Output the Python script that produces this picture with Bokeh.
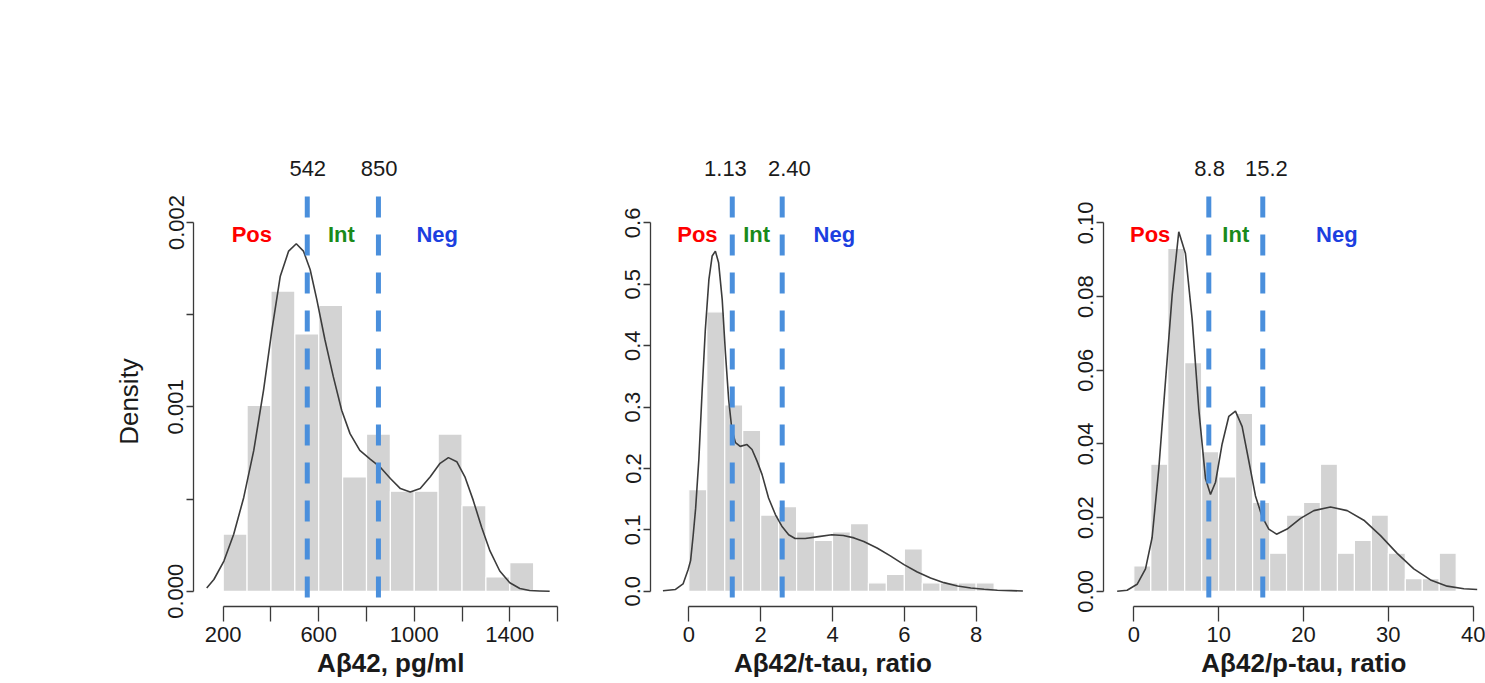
from bokeh.plotting import figure
from bokeh.layouts import row
from bokeh.models import FixedTicker, Title
from bokeh.core.properties import value
from bokeh.embed import file_html
from bokeh.resources import INLINE

# ---------------- data ----------------
zone_labels = ["Pos", "Int", "Neg"]
zone_colors = ["#ff0000", "#1a8a1a", "#1c3fe0"]

# Panel 1: Abeta42, pg/ml
ab_edges = [200, 300, 400, 500, 600, 700, 800, 900, 1000, 1100, 1200, 1300, 1400, 1500]
ab_counts = [4, 13, 21, 18, 20, 8, 11, 7, 7, 11, 6, 1, 2]
ab_kde_x = [131, 161, 203, 244, 286, 328, 369, 404, 439, 474, 506, 536, 564, 592, 626,
            661, 696, 731, 772, 814, 856, 900, 942, 983, 1025, 1067, 1108, 1143, 1178,
            1212, 1247, 1282, 1317, 1358, 1400, 1442, 1483, 1525, 1567]
ab_kde_y = [0.000018, 0.000064, 0.000164, 0.000309, 0.000509, 0.000764, 0.001091, 0.001418,
            0.001709, 0.001845, 0.001885, 0.001845, 0.001745, 0.001582, 0.001364, 0.001164,
            0.000982, 0.000855, 0.000764, 0.000718, 0.000675, 0.000612, 0.000557, 0.000539,
            0.000557, 0.000621, 0.000694, 0.000725, 0.000703, 0.000621, 0.000493, 0.000347,
            0.000219, 0.000110, 0.000046, 0.000015, 0.000004, 0.000002, 0.0]
ab_cut_lines = [552, 850]
ab_cut_labels = ["542", "850"]
ab_cut_label_x = [554, 853]
ab_zone_x = [320, 695, 1096]
ab_xticks = [200, 400, 600, 800, 1000, 1200, 1400, 1600]
ab_xtick_labels = ["200", "", "600", "", "1000", "", "1400", ""]
ab_yticks = [0.0, 0.0005, 0.001, 0.0015, 0.002]
ab_ytick_labels = ["0.000", "", "0.001", "", "0.002"]
ab_title = "A\u03b242, pg/ml"
ab_ylabel = "Density"

# Panel 2: Abeta42/t-tau ratio
tt_edges = [0.0, 0.5, 1.0, 1.5, 2.0, 2.5, 3.0, 3.5, 4.0, 4.5, 5.0, 5.5, 6.0, 6.5, 7.0, 7.5, 8.0, 8.5]
tt_counts = [12, 33, 22, 19, 9, 10, 7, 6, 7, 8, 1, 2, 5, 1, 1, 1, 1]
tt_kde_x = [-0.72, -0.37, -0.16, -0.02, 0.05, 0.12, 0.19, 0.28, 0.37, 0.46, 0.56, 0.65, 0.74,
            0.83, 0.93, 1.02, 1.11, 1.20, 1.30, 1.43, 1.62, 1.76, 1.90, 2.04, 2.22, 2.41,
            2.59, 2.78, 2.96, 3.24, 3.61, 3.98, 4.30, 4.60, 4.87, 5.24, 5.61, 5.99, 6.36,
            6.73, 7.10, 7.48, 7.85, 8.22, 8.59, 8.97, 9.30]
tt_kde_y = [0.001, 0.003, 0.012, 0.035, 0.050, 0.090, 0.135, 0.215, 0.325, 0.426, 0.508, 0.546,
            0.554, 0.535, 0.475, 0.388, 0.312, 0.263, 0.242, 0.236, 0.239, 0.231, 0.212, 0.190,
            0.152, 0.125, 0.106, 0.092, 0.086, 0.086, 0.089, 0.092, 0.091, 0.087, 0.081, 0.0706,
            0.0576, 0.0434, 0.0315, 0.0217, 0.0141, 0.0087, 0.0054, 0.0033, 0.0016, 0.0011, 0.0005]
tt_cut_lines = [1.21, 2.60]
tt_cut_labels = ["1.13", "2.40"]
tt_cut_label_x = [1.02, 2.80]
tt_zone_x = [0.24, 1.89, 4.05]
tt_xticks = [0, 2, 4, 6, 8]
tt_xtick_labels = ["0", "2", "4", "6", "8"]
tt_yticks = [0.0, 0.1, 0.2, 0.3, 0.4, 0.5, 0.6]
tt_ytick_labels = ["0.0", "0.1", "0.2", "0.3", "0.4", "0.5", "0.6"]
tt_title = "A\u03b242/t-tau, ratio"

# Panel 3: Abeta42/p-tau ratio
pt_edges = [0, 2, 4, 6, 8, 10, 12, 14, 16, 18, 20, 22, 24, 26, 28, 30, 32, 34, 36, 38]
pt_counts = [2, 10, 27, 18, 11, 9, 14, 7, 3, 6, 7, 10, 3, 4, 6, 3, 1, 1, 3]
pt_kde_x = [-1.96, -0.79, 0.39, 1.38, 2.16, 2.95, 3.73, 4.52, 5.30, 6.09, 6.88, 7.66, 8.45,
            9.04, 9.63, 10.41, 11.20, 11.98, 12.77, 13.56, 14.34, 15.13, 15.91, 16.82, 18.07,
            19.65, 21.22, 23.18, 25.15, 27.11, 29.08, 31.04, 33.00, 34.97, 36.93, 38.90, 40.47]
pt_kde_y = [0.0, 0.0003, 0.0019, 0.0061, 0.0146, 0.0334, 0.0569, 0.0804, 0.0976, 0.0917, 0.0738,
            0.0494, 0.0306, 0.0263, 0.0296, 0.0400, 0.0475, 0.0489, 0.0447, 0.0353, 0.0259,
            0.0202, 0.0169, 0.0155, 0.0169, 0.0198, 0.0219, 0.0229, 0.0219, 0.0193, 0.0151,
            0.0103, 0.0061, 0.0031, 0.0014, 0.0007, 0.0005]
pt_cut_lines = [8.84, 15.2]
pt_cut_labels = ["8.8", "15.2"]
pt_cut_label_x = [8.94, 15.62]
pt_zone_x = [1.93, 12.02, 23.93]
pt_xticks = [0, 10, 20, 30, 40]
pt_xtick_labels = ["0", "10", "20", "30", "40"]
pt_yticks = [0.0, 0.02, 0.04, 0.06, 0.08, 0.10]
pt_ytick_labels = ["0.00", "0.02", "0.04", "0.06", "0.08", "0.10"]
pt_title = "A\u03b242/p-tau, ratio"

# ---------------- layout constants (screen pixels) ----------------
FONT = "Liberation Sans"
FIG_H = 683
FRAME_TOP = 140
FRAME_BOTTOM = 606
Y0_PX = 590.8
DASH_TOP = 196
DASH_BOTTOM = 598
YLABEL_CENTER_PX = 401
TITLE_PX = 26
AXIS_COL = "#3a3a3a"
TEXT_COL = "#1a1a1a"

# approximate advance widths (em) of Liberation Sans, used only to centre titles
_W_BOLD = {"A": .722, "\u03b2": .58, "4": .556, "2": .556, ",": .278, " ": .278, "p": .611,
           "g": .611, "/": .278, "m": .889, "l": .278, "t": .333, "-": .333, "a": .556,
           "u": .611, "r": .389, "i": .278, "o": .611}
_W_REG = {"D": .722, "e": .556, "n": .556, "s": .5, "i": .222, "t": .278, "y": .5}


def text_width(s, table, size):
    return sum(table.get(ch, .556) for ch in s) * size


def make_panel(edges, counts, kde_x, kde_y, cut_lines, cut_labels, cut_label_x, zone_x,
               xticks, xtick_labels, yticks, ytick_labels, title,
               fig_l, fig_r, frame_l, frame_r, x_ref, x_ref_px, x_scale, y_scale,
               ylabel=None):
    def xd(px):
        return x_ref + (px - x_ref_px) / x_scale

    def xp(x):
        return x_ref_px + (x - x_ref) * x_scale

    def yd(py):
        return (Y0_PX - py) / y_scale

    p = figure(width=fig_r - fig_l, height=FIG_H,
               x_range=(xd(frame_l), xd(frame_r)),
               y_range=(yd(FRAME_BOTTOM), yd(FRAME_TOP)),
               output_backend="svg", toolbar_location=None,
               min_border_left=frame_l - fig_l, min_border_right=fig_r - frame_r,
               min_border_top=FRAME_TOP, min_border_bottom=FIG_H - FRAME_BOTTOM)
    p.outline_line_color = None
    p.xgrid.visible = False
    p.ygrid.visible = False
    p.background_fill_color = "white"
    p.border_fill_color = "white"

    n = sum(counts)
    w = edges[1] - edges[0]
    dens = [c / (n * w) for c in counts]
    p.quad(left=edges[:-1], right=edges[1:], bottom=0, top=dens,
           fill_color="#d3d3d3", line_color="white", line_width=1.2)
    p.line(kde_x, kde_y, line_color="#3c3c3c", line_width=1.6)
    p.segment(x0=cut_lines, y0=[yd(DASH_TOP)] * len(cut_lines),
              x1=cut_lines, y1=[yd(DASH_BOTTOM)] * len(cut_lines),
              line_color="#4a8fdc", line_width=5, line_dash="21 17")
    p.text(x=cut_label_x, y=[yd(168.3)] * len(cut_label_x), text=cut_labels,
           text_font=value(FONT), text_font_size="22px", text_color=TEXT_COL,
           text_align="center", text_baseline="alphabetic")
    p.text(x=zone_x, y=[yd(234)] * len(zone_x), text=zone_labels, text_color=zone_colors,
           text_font=value(FONT), text_font_size="22px", text_font_style="bold",
           text_align="center", text_baseline="alphabetic")

    xa = p.xaxis[0]
    xa.ticker = FixedTicker(ticks=xticks)
    xa.major_label_overrides = dict(zip(xticks, xtick_labels))
    xa.bounds = (xticks[0], xticks[-1])
    xa.major_tick_in = 0
    xa.major_tick_out = 15
    xa.minor_tick_line_color = None
    xa.axis_line_color = AXIS_COL
    xa.axis_line_width = 1.3
    xa.major_tick_line_color = AXIS_COL
    xa.major_tick_line_width = 1.3
    xa.major_label_text_font = FONT
    xa.major_label_text_font_size = "22px"
    xa.major_label_text_color = TEXT_COL
    xa.major_label_standoff = 5

    ya = p.yaxis[0]
    ya.ticker = FixedTicker(ticks=yticks)
    ya.major_label_overrides = dict(zip(yticks, ytick_labels))
    ya.bounds = (yticks[0], yticks[-1])
    ya.major_tick_in = 0
    ya.major_tick_out = 7
    ya.minor_tick_line_color = None
    ya.axis_line_color = AXIS_COL
    ya.axis_line_width = 1.3
    ya.major_tick_line_color = AXIS_COL
    ya.major_tick_line_width = 1.3
    ya.major_label_orientation = "vertical"
    ya.major_label_text_font = FONT
    ya.major_label_text_font_size = "22px"
    ya.major_label_text_color = TEXT_COL
    ya.major_label_standoff = 3

    # x title centred on the middle of the axis span
    title_cx = xp((xticks[0] + xticks[-1]) / 2)
    tw = text_width(title, _W_BOLD, TITLE_PX)
    p.add_layout(Title(text=title, align="left", offset=title_cx - tw / 2 - frame_l,
                       text_font=FONT, text_font_size="%dpx" % TITLE_PX,
                       text_font_style="bold", text_color=TEXT_COL, standoff=2), "below")

    if ylabel:
        lw = text_width(ylabel, _W_REG, TITLE_PX)
        p.add_layout(Title(text=ylabel, align="left",
                           offset=FRAME_BOTTOM - (YLABEL_CENTER_PX + lw / 2),
                           text_font=FONT, text_font_size="%dpx" % TITLE_PX,
                           text_font_style="normal", text_color=TEXT_COL, standoff=43),
                     "left")
    return p


p1 = make_panel(ab_edges, ab_counts, ab_kde_x, ab_kde_y, ab_cut_lines, ab_cut_labels,
                ab_cut_label_x, ab_zone_x, ab_xticks, ab_xtick_labels, ab_yticks,
                ab_ytick_labels, ab_title,
                fig_l=0, fig_r=590, frame_l=193, frame_r=570,
                x_ref=200, x_ref_px=222.7, x_scale=0.23883, y_scale=184400,
                ylabel=ab_ylabel)
p2 = make_panel(tt_edges, tt_counts, tt_kde_x, tt_kde_y, tt_cut_lines, tt_cut_labels,
                tt_cut_label_x, tt_zone_x, tt_xticks, tt_xtick_labels, tt_yticks,
                tt_ytick_labels, tt_title,
                fig_l=590, fig_r=1045, frame_l=650, frame_r=1030,
                x_ref=0, x_ref_px=688.3, x_scale=35.925, y_scale=614.0)
p3 = make_panel(pt_edges, pt_counts, pt_kde_x, pt_kde_y, pt_cut_lines, pt_cut_labels,
                pt_cut_label_x, pt_zone_x, pt_xticks, pt_xtick_labels, pt_yticks,
                pt_ytick_labels, pt_title,
                fig_l=1045, fig_r=1485, frame_l=1103, frame_r=1485,
                x_ref=0, x_ref_px=1133.3, x_scale=8.485, y_scale=3684)

layout = row(p1, p2, p3)
open("out.html", "w").write(file_html(layout, INLINE))
